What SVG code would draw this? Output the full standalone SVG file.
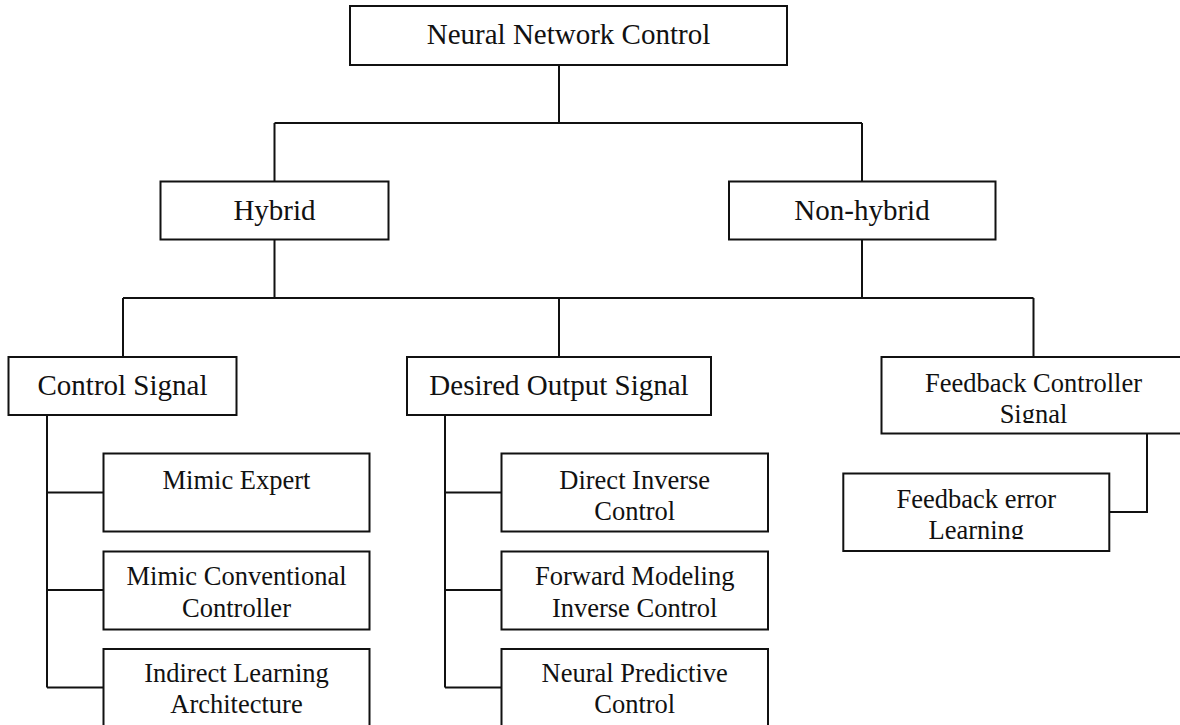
<svg xmlns="http://www.w3.org/2000/svg" width="1180" height="725" viewBox="0 0 1180 725">
  <style>
    .box { fill: #fff; stroke: #111; stroke-width: 2; }
    .wire { fill: none; stroke: #111; stroke-width: 2; }
    text { font-family: "Liberation Serif", "Times New Roman", serif; fill: #111; text-anchor: middle; }
    .big { font-size: 29px; }
    .small { font-size: 26.5px; }
  </style>
  <defs>
    <!-- the last line of these two boxes is cut at the bottom -->
    <clipPath id="clipFbc"><rect x="881" y="357" width="304" height="66"/></clipPath>
    <clipPath id="clipFbe"><rect x="843" y="474" width="267" height="65.3"/></clipPath>
  </defs>

  <rect width="1180" height="725" fill="#fff"/>

  <g id="connectors">
    <path class="wire" d="M559 65 V123 M274.5 123 H862 M274.5 123 V181.5 M862 123 V181.5"/>
    <path class="wire" d="M274.5 239.5 V298 M862 239.5 V298 M123 298 H1033.5 M123 298 V357 M559 298 V357 M1033.5 298 V357"/>
    <path class="wire" d="M47 415 V687.5 M47 492.5 H103.5 M47 590 H103.5 M47 687.5 H103.5"/>
    <path class="wire" d="M445 415 V687.5 M445 492.5 H501.5 M445 590 H501.5 M445 687.5 H501.5"/>
    <path class="wire" d="M1147 434 V512 H1109.5"/>
  </g>

  <g id="node-root">
    <rect class="box" x="350" y="6" width="437" height="59"/>
    <text class="big" x="568.5" y="43.5">Neural Network Control</text>
  </g>

  <g id="node-hybrid">
    <rect class="box" x="160.5" y="181.5" width="228" height="58"/>
    <text class="big" x="274.5" y="219.5">Hybrid</text>
  </g>

  <g id="node-nonhybrid">
    <rect class="box" x="729" y="181.5" width="266.5" height="58"/>
    <text class="big" x="862" y="219.5">Non-hybrid</text>
  </g>

  <g id="node-control-signal">
    <rect class="box" x="8.5" y="357" width="228" height="58"/>
    <text class="big" x="122.5" y="395">Control Signal</text>
  </g>

  <g id="node-desired-output">
    <rect class="box" x="407" y="357" width="304" height="58"/>
    <text class="big" x="559" y="395">Desired Output Signal</text>
  </g>

  <g id="node-feedback-controller">
    <rect class="box" x="881.5" y="357" width="304" height="76.5"/>
    <g clip-path="url(#clipFbc)">
      <text class="small" x="1033.5" y="391.5">Feedback Controller</text>
      <text class="small" x="1033.5" y="423">Signal</text>
    </g>
  </g>

  <g id="node-mimic-expert">
    <rect class="box" x="103.5" y="453.5" width="266" height="78"/>
    <text class="small" x="236.5" y="488.5">Mimic Expert</text>
  </g>

  <g id="node-mimic-conventional">
    <rect class="box" x="103.5" y="551.5" width="266" height="78"/>
    <text class="small" x="236.5" y="585">Mimic Conventional</text>
    <text class="small" x="236.5" y="616.7">Controller</text>
  </g>

  <g id="node-indirect-learning">
    <rect class="box" x="103.5" y="649" width="266" height="90"/>
    <text class="small" x="236.5" y="681.7">Indirect Learning</text>
    <text class="small" x="236.5" y="713.3">Architecture</text>
  </g>

  <g id="node-direct-inverse">
    <rect class="box" x="501.5" y="453.5" width="266.5" height="78"/>
    <text class="small" x="634.7" y="488.5">Direct Inverse</text>
    <text class="small" x="634.7" y="520">Control</text>
  </g>

  <g id="node-forward-modeling">
    <rect class="box" x="501.5" y="551.5" width="266.5" height="78"/>
    <text class="small" x="634.7" y="585">Forward Modeling</text>
    <text class="small" x="634.7" y="616.7">Inverse Control</text>
  </g>

  <g id="node-neural-predictive">
    <rect class="box" x="501.5" y="649" width="266.5" height="90"/>
    <text class="small" x="634.7" y="681.7">Neural Predictive</text>
    <text class="small" x="634.7" y="713.3">Control</text>
  </g>

  <g id="node-feedback-error">
    <rect class="box" x="843.3" y="473.5" width="266" height="77.5"/>
    <g clip-path="url(#clipFbe)">
      <text class="small" x="976.3" y="508.3">Feedback error</text>
      <text class="small" x="976.3" y="538.5">Learning</text>
    </g>
  </g>
</svg>
